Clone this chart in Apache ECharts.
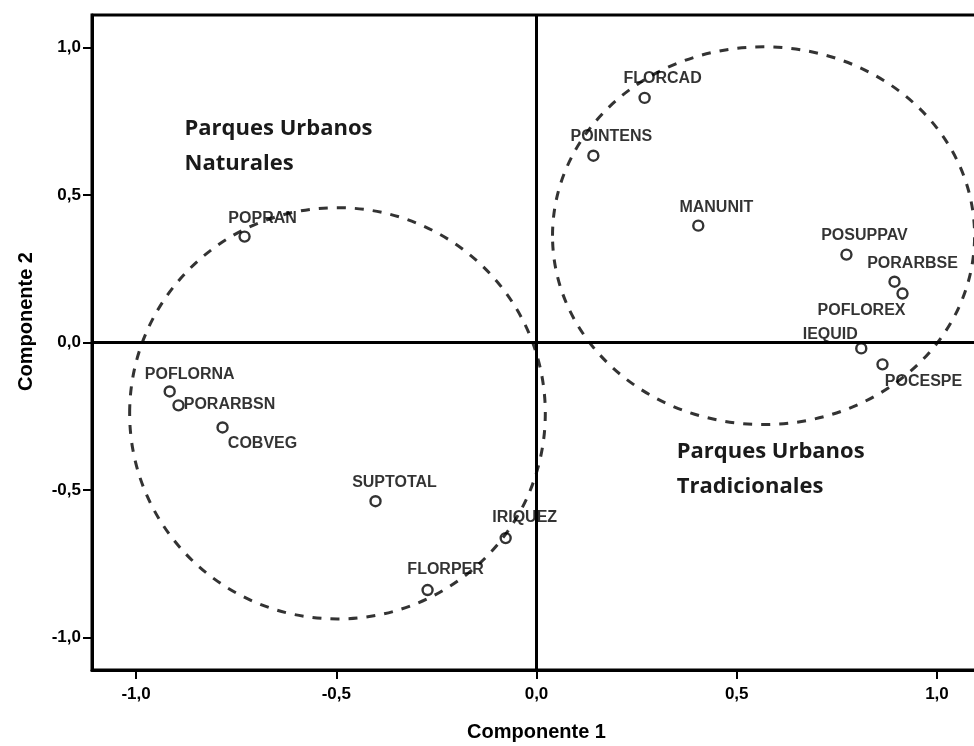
<!DOCTYPE html>
<html>
<head>
<meta charset="utf-8">
<script src="https://cdn.jsdelivr.net/npm/echarts@6/dist/echarts.min.js"></script>
<style>
html,body{margin:0;padding:0;background:#fff;}
#chart{width:974px;height:746px;}
</style>
</head>
<body>
<div id="chart"></div>
<script>
// ---- data ----
var pointNames = ['FLORCAD','POINTENS','MANUNIT','POSUPPAV','PORARBSE','POFLOREX','IEQUID','POCESPE','POPRAN','POFLORNA','PORARBSN','COBVEG','SUPTOTAL','IRIQUEZ','FLORPER'];
var comp1 = [0.270, 0.142, 0.404, 0.774, 0.894, 0.914, 0.811, 0.864, -0.729, -0.916, -0.894, -0.784, -0.402, -0.077, -0.272];
var comp2 = [0.829, 0.633, 0.396, 0.298, 0.206, 0.166, -0.020, -0.074, 0.359, -0.166, -0.213, -0.288, -0.538, -0.663, -0.839];
var tickValues = [-1.0, -0.5, 0.0, 0.5, 1.0];
// group outlines: centre x, centre y, half-width, half-height (in component units)
var groupCx = [-0.497, 0.567];
var groupCy = [-0.240, 0.362];
var groupRx = [0.519, 0.527];
var groupRy = [0.697, 0.640];
var groupNames = ['Parques Urbanos\nNaturales', 'Parques Urbanos\nTradicionales'];
var groupLabelX = [-0.879, 0.350];
var groupLabelY = [0.724, -0.369];

// ---- label placement (pixels, relative to the point) ----
var labelOffsets = {
  FLORCAD:[18,-19], POINTENS:[18,-19], MANUNIT:[18,-18], POSUPPAV:[18,-19],
  PORARBSE:[18,-18], POFLOREX:[-41,17], IEQUID:[-31,-14], POCESPE:[41,17],
  POPRAN:[18,-18], POFLORNA:[20,-17], PORARBSN:[51,-1], COBVEG:[40,16],
  SUPTOTAL:[19,-19], IRIQUEZ:[19,-21], FLORPER:[18,-20]
};

var fmt = function (v) { return Number(v).toFixed(1).replace('.', ','); };

var scatterData = pointNames.map(function (n, i) {
  return {
    name: n,
    value: [comp1[i], comp2[i]],
    label: { offset: labelOffsets[n] }
  };
});

var ellipseData = groupCx.map(function (c, i) { return [c, groupCy[i], groupRx[i], groupRy[i]]; });
var regionData = groupLabelX.map(function (x, i) { return [x, groupLabelY[i]]; });

var axisCommon = {
  type: 'value',
  min: -1.11,
  max: 1.11,
  splitLine: { show: false },
  axisLine: { show: true, onZero: false, lineStyle: { color: '#000', width: 3 } },
  axisTick: { show: true, customValues: tickValues, length: 9, lineStyle: { color: '#000', width: 2 } },
  axisLabel: {
    customValues: tickValues,
    formatter: fmt,
    color: '#000',
    fontFamily: '"Liberation Sans", Arial, sans-serif',
    fontWeight: 'bold',
    fontSize: 17
  },
  nameLocation: 'middle',
  nameTextStyle: {
    color: '#000',
    fontFamily: '"Liberation Sans", Arial, sans-serif',
    fontWeight: 'bold',
    fontSize: 20
  }
};

var chart = echarts.init(document.getElementById('chart'), null, { renderer: 'canvas' });
var option = {
  backgroundColor: '#fff',
  animation: false,
  grid: {
    left: 92, top: 15, width: 889, height: 655,
    outerBoundsMode: 'none',
    containLabel: false,
    show: true, borderColor: '#000', borderWidth: 3, backgroundColor: 'transparent'
  },
  xAxis: Object.assign({}, axisCommon, {
    name: 'Componente 1',
    nameGap: 52,
    axisLabel: Object.assign({}, axisCommon.axisLabel, { margin: 16 })
  }),
  yAxis: Object.assign({}, axisCommon, {
    name: 'Componente 2',
    nameGap: 56,
    nameTextStyle: Object.assign({}, axisCommon.nameTextStyle, { padding: [0, 0, 0, 42] }),
    axisLabel: Object.assign({}, axisCommon.axisLabel, { margin: 11 })
  }),
  series: [
    {
      type: 'custom',
      silent: true,
      z: 1,
      clip: false,
      data: ellipseData,
      renderItem: function (params, api) {
        var c = api.coord([api.value(0), api.value(1)]);
        var s = api.size([api.value(2), api.value(3)], [api.value(0), api.value(1)]);
        return {
          type: 'ellipse',
          shape: { cx: c[0], cy: c[1], rx: s[0], ry: s[1] },
          style: { fill: 'none', stroke: '#333', lineWidth: 3, lineDash: [9, 9] }
        };
      }
    },
    {
      type: 'custom',
      silent: true,
      z: 3,
      data: regionData,
      renderItem: function (params, api) {
        var c = api.coord([api.value(0), api.value(1)]);
        return {
          type: 'text',
          x: c[0],
          y: c[1] - 17.5,
          style: {
            text: groupNames[params.dataIndex],
            fill: '#1a1a1a',
            font: 'bold 22px "Open Sans", sans-serif',
            lineHeight: 35,
            align: 'left',
            verticalAlign: 'top'
          }
        };
      }
    },
    {
      type: 'scatter',
      z: 5,
      symbol: 'circle',
      symbolSize: 10,
      itemStyle: { color: 'rgba(255,255,255,0)', borderColor: '#000', borderWidth: 2.4 },
      label: {
        show: true,
        position: 'inside',
        formatter: '{b}',
        color: '#000',
        fontFamily: '"Liberation Sans", Arial, sans-serif',
        fontWeight: 'bold',
        fontSize: 16
      },
      emphasis: { disabled: true },
      data: scatterData,
      markLine: {
        silent: true,
        symbol: ['none', 'none'],
        label: { show: false },
        lineStyle: { color: '#000', width: 3, type: 'solid' },
        data: [{ xAxis: 0 }, { yAxis: 0 }]
      }
    }
  ]
};
chart.setOption(option);
</script>
</body>
</html>
